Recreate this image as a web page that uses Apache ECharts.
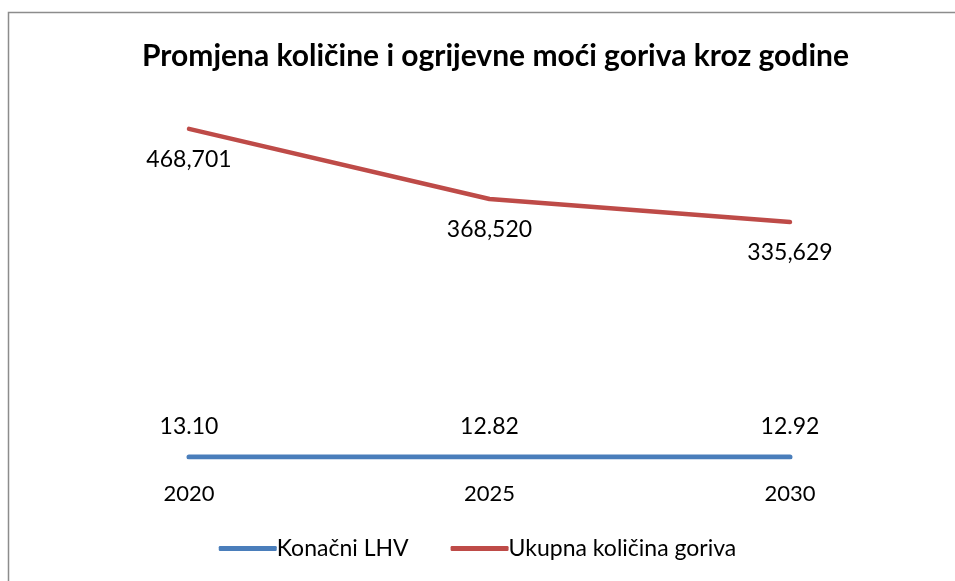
<!DOCTYPE html>
<html>
<head>
<meta charset="utf-8">
<script src="https://cdn.jsdelivr.net/npm/echarts@6/dist/echarts.min.js"></script>
<style>
  html, body { margin: 0; padding: 0; background: #fff; }
  #chart { width: 955px; height: 581px; }
</style>
</head>
<body>
<div id="chart"></div>
<script>
// Years on the category axis
const years = ['2020', '2025', '2030'];
// Final lower heating value per year
const lhvValues = [13.10, 12.82, 12.92];
// Total fuel quantity per year
const fuelTotals = [468701, 368520, 335629];

const seriesNames = ['Konačni LHV', 'Ukupna količina goriva'];
const FONT = 'Lato, "Noto Sans", sans-serif';

const chart = echarts.init(document.getElementById('chart'));

chart.setOption({
  animation: false,
  backgroundColor: '#fff',
  graphic: [{
    type: 'rect',
    shape: { x: 8.5, y: 12.5, width: 1000, height: 700 },
    style: { fill: 'none', stroke: '#8c8c8c', lineWidth: 1.5 },
    silent: true
  }],
  title: {
    text: 'Promjena količine i ogrijevne moći goriva kroz godine',
    left: 137,
    top: 36,
    textStyle: { fontFamily: FONT, fontWeight: 'bold', fontSize: 30, color: '#000' }
  },
  legend: {
    bottom: 16,
    left: 'center',
    itemWidth: 58,
    itemHeight: 5,
    itemGap: 42,
    icon: 'roundRect',
    textStyle: { fontFamily: FONT, fontSize: 23, color: '#000', padding: [0, 0, 0, -5] },
    data: seriesNames
  },
  grid: { left: 189, right: 165, top: 107, bottom: 124 },
  xAxis: {
    type: 'category',
    data: years,
    boundaryGap: false,
    axisLine: { show: false },
    axisTick: { show: false },
    axisLabel: { fontFamily: FONT, fontSize: 22, color: '#000', margin: 26 }
  },
  yAxis: {
    type: 'value',
    min: 0,
    max: 500000,
    show: false,
    splitLine: { show: false }
  },
  series: [
    {
      name: seriesNames[0],
      type: 'line',
      data: lhvValues,
      symbol: 'circle',
      symbolSize: 0,
      lineStyle: { color: '#4a7ebb', width: 5, cap: 'round' },
      itemStyle: { color: '#4a7ebb' },
      label: {
        show: true,
        position: 'top',
        distance: 19,
        fontFamily: FONT,
        fontSize: 23,
        color: '#000',
        formatter: p => p.value.toFixed(2)
      }
    },
    {
      name: seriesNames[1],
      type: 'line',
      data: fuelTotals,
      symbol: 'circle',
      symbolSize: 0,
      lineStyle: { color: '#be4b48', width: 4.5, cap: 'round' },
      itemStyle: { color: '#be4b48' },
      label: {
        show: true,
        position: 'bottom',
        distance: 19,
        fontFamily: FONT,
        fontSize: 23,
        color: '#000',
        formatter: p => p.value.toLocaleString('en-US')
      }
    }
  ]
});
</script>
</body>
</html>
